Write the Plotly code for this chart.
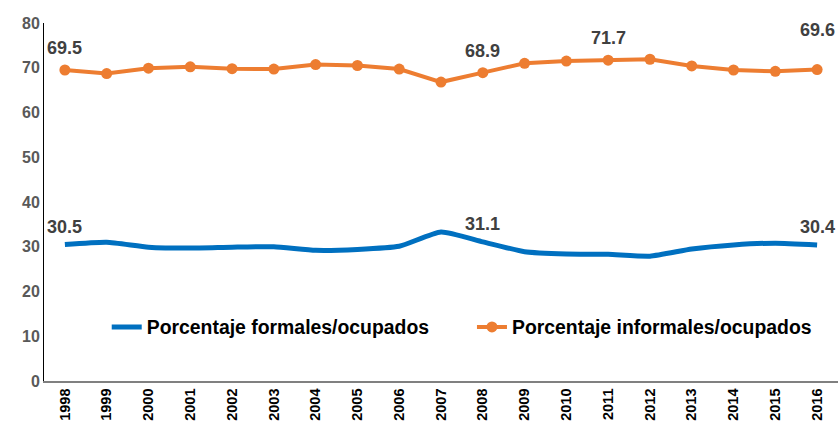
import plotly.graph_objects as go

years = list(range(1998, 2017))
formales = [30.5, 31.0, 29.9, 29.7, 29.9, 30.0, 29.2, 29.4, 30.1, 33.3, 31.1, 28.9, 28.4, 28.3, 27.9, 29.5, 30.4, 30.8, 30.4]
informales = [69.5, 68.7, 69.9, 70.2, 69.8, 69.7, 70.7, 70.5, 69.7, 66.8, 68.9, 71.0, 71.5, 71.7, 71.9, 70.4, 69.5, 69.2, 69.6]
label_idx_for = [0, 10, 18]
label_idx_inf = [0, 10, 13, 18]

FONT = "Liberation Sans, Arial"

fig = go.Figure()
fig.add_trace(go.Scatter(
    x=years, y=formales, mode="lines", name="Porcentaje formales/ocupados",
    line=dict(color="#0070C0", width=5, shape="spline", smoothing=0.5),
    legend="legend",
))
fig.add_trace(go.Scatter(
    x=years, y=informales, mode="lines+markers", name="Porcentaje informales/ocupados",
    line=dict(color="#ED7D31", width=4),
    marker=dict(color="#ED7D31", size=11),
    legend="legend2",
))
for i in label_idx_for:
    fig.add_annotation(x=years[i], y=formales[i], text=f"{formales[i]:.1f}", showarrow=False,
                       yshift=18, font=dict(family=FONT, size=18, color="#404040", weight="bold"),
                       xanchor="center")
for i in label_idx_inf:
    fig.add_annotation(x=years[i], y=informales[i], text=f"{informales[i]:.1f}", showarrow=False,
                       yshift=40 if i == 18 else 22,
                       font=dict(family=FONT, size=18, color="#404040", weight="bold"),
                       xanchor="center")

legfont = dict(family=FONT, size=19.4, color="#000000", weight="bold")
fig.update_layout(
    width=839, height=428,
    margin=dict(l=44, r=1, t=23, b=47),
    plot_bgcolor="white", paper_bgcolor="white",
    showlegend=True,
    legend=dict(x=0.079, y=0.15, xanchor="left", yanchor="middle",
                font=legfont, bgcolor="rgba(0,0,0,0)", itemwidth=30),
    legend2=dict(x=0.539, y=0.15, xanchor="left", yanchor="middle",
                 font=legfont, bgcolor="rgba(0,0,0,0)", itemwidth=30),
    font=dict(family=FONT),
)
fig.update_xaxes(
    range=[1997.5, 2016.5], dtick=1, tick0=1998, showgrid=False, showline=True,
    linecolor="#808080", linewidth=1.5, zeroline=False, automargin=False,
    tickangle=-90, ticks="", tickfont=dict(family=FONT, size=14.5, color="#000000", weight="bold"),
)
fig.update_yaxes(
    range=[0, 80], dtick=10, showgrid=False, showline=True, linecolor="#000000", linewidth=1,
    ticks="", zeroline=False, automargin=False,
    tickfont=dict(family=FONT, size=16, color="#595959", weight="bold"),
)
fig.write_html("out.html", config={"displayModeBar": False},
               post_script="document.body.style.margin='0px';document.body.style.overflow='hidden';")
